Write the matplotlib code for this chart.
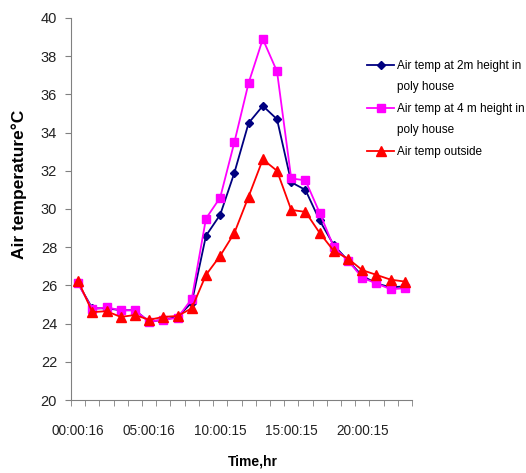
import numpy as np
import matplotlib
matplotlib.use('Agg')
import matplotlib.pyplot as plt
from matplotlib.lines import Line2D

plt.rcParams['font.family'] = ['Liberation Sans', 'DejaVu Sans']

# hourly readings, 24 categories
hours = np.arange(24)
tick_idx = [0, 5, 10, 15, 20]
tick_labels = ['00:00:16', '05:00:16', '10:00:15', '15:00:15', '20:00:15']

temp_2m = [26.1, 24.8, 24.8, 24.7, 24.7, 24.1, 24.2, 24.35, 25.1, 28.6, 29.7, 31.9,
           34.5, 35.4, 34.7, 31.4, 31.0, 29.4, 28.1, 27.3, 26.5, 26.1, 25.9, 25.95]
temp_4m = [26.1, 24.75, 24.85, 24.7, 24.7, 24.1, 24.2, 24.3, 25.3, 29.5, 30.6, 33.5,
           36.6, 38.9, 37.2, 31.6, 31.5, 29.8, 28.0, 27.3, 26.4, 26.1, 25.8, 25.85]
temp_out = [26.25, 24.6, 24.65, 24.35, 24.45, 24.2, 24.35, 24.4, 24.8, 26.55, 27.55, 28.75,
            30.65, 32.6, 32.0, 29.95, 29.85, 28.75, 27.8, 27.4, 26.8, 26.55, 26.3, 26.2]

fig = plt.figure(figsize=(5.26, 4.73), dpi=100)
ax = fig.add_axes([71 / 526, 73 / 473, 341 / 526, 382 / 473])

l1, = ax.plot(hours, temp_2m, color='#000080', marker='D', markersize=4.5, lw=1.3)
l2, = ax.plot(hours, temp_4m, color='#ff00ff', marker='s', markersize=6, lw=1.3)
l3, = ax.plot(hours, temp_out, color='#ff0000', marker='^', markersize=6.5, lw=1.3)

ax.set_xlim(-0.5, 23.5)
ax.set_ylim(20, 40)
ax.set_yticks(np.arange(20, 41, 2))
ax.set_xticks(tick_idx)
ax.set_xticklabels(tick_labels)
ax.set_xticks(np.arange(-0.5, 24, 1), minor=True)
ax.tick_params(axis='x', which='major', length=0, pad=17, labelsize=9.8, labelcolor='#222222')
ax.tick_params(axis='x', which='minor', length=4, color='#808080', direction='out')
ax.tick_params(axis='y', length=4, color='#808080', pad=6, labelsize=10.5, labelcolor='#222222')

for s in ['top', 'right']:
    ax.spines[s].set_visible(False)
for s in ['left', 'bottom']:
    ax.spines[s].set_color('#808080')

ax.set_xlabel('Time,hr', fontweight='bold', fontsize=10)
ax.xaxis.set_label_coords(0.534, -0.143)
ax.set_ylabel('Air temperature\u00b0C', fontweight='bold', fontsize=12.5)
ax.yaxis.set_label_coords(-0.128, 0.565)

# wrapped labels: second line gets an empty handle so markers sit on the first line
blank = Line2D([], [], color='none')
leg = ax.legend(handles=[l1, blank, l2, blank, l3],
                labels=['Air temp at 2m height in', 'poly house',
                        'Air temp at 4 m height in', 'poly house', 'Air temp outside'],
                loc='upper left', bbox_to_anchor=(367 / 526, 1 - 60 / 473),
                bbox_transform=fig.transFigure, frameon=False, fontsize=8.5,
                handlelength=2.3, handletextpad=0.25, labelspacing=0.8, borderpad=0,
                borderaxespad=0)

fig.savefig('out.png', dpi=100)
